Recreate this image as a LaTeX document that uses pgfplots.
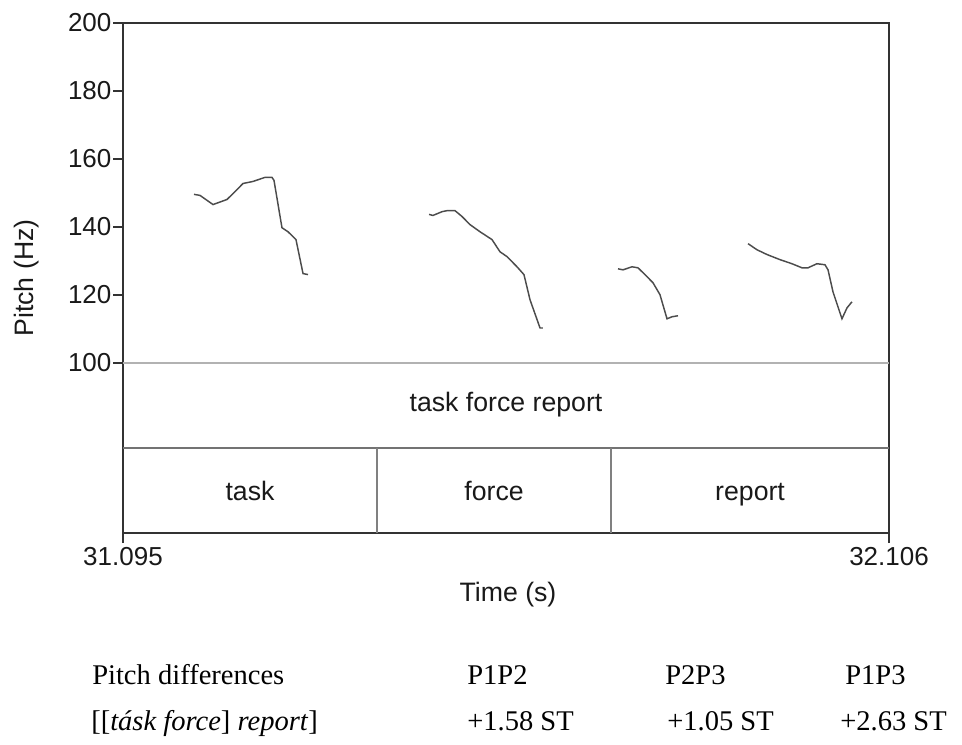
\documentclass[border=0pt]{standalone}
\usepackage{fontspec}
\setmainfont{Liberation Serif}
\setsansfont{Liberation Sans}
\usepackage{pgfplots}
\pgfplotsset{compat=1.18}
\tikzset{
  contour/.style={no markers, solid, line width=1.1pt, draw=black!70},
  tier/.style={font=\sffamily\fontsize{20}{23}\selectfont, text=black!90, anchor=base},
}
\begin{document}
\begin{tikzpicture}
\useasboundingbox (0pt,0pt) rectangle (721.5pt,558pt);
\begin{axis}[
  at={(92.25pt,158.25pt)}, anchor=south west,
  scale only axis, width=574.5pt, height=382.5pt,
  xmin=31.095, xmax=32.106, ymin=50, ymax=200,
  xtick={31.095,32.106}, xticklabels={31.095,32.106},
  ytick={100,120,140,160,180,200},
  tick align=outside, xtick pos=left, ytick pos=left,
  major tick length=7.5pt,
  axis line style={draw=black!80, line width=1.5pt},
  tick style={draw=black!80, line width=1.3pt},
  /pgf/number format/assume math mode=true,
  tick label style={font=\sffamily\fontsize{19.5}{22}\selectfont, text=black!90},
  yticklabel style={inner sep=1pt},
  xlabel={Time (s)}, ylabel={Pitch (Hz)},
  label style={font=\sffamily\fontsize{20}{23}\selectfont, text=black!90},
  xlabel style={at={(axis description cs:0.5026,-0.1215)}, anchor=center},
  ylabel style={at={(axis description cs:-0.1253,0.5)}, anchor=center},
]
% tier structure
\addplot[no markers, solid, draw=black!30, line width=0.8pt] coordinates {(31.095,100) (32.106,100)};
\addplot[no markers, solid, draw=black!55, line width=1.2pt] coordinates {(31.095,75) (32.106,75)};
\addplot[no markers, solid, draw=black!50, line width=0.8pt] coordinates {(31.4302,50) (31.4302,75)};
\addplot[no markers, solid, draw=black!50, line width=0.8pt] coordinates {(31.7391,50) (31.7391,75)};
% pitch contours
\addplot[contour] coordinates {
 (31.1887,149.6) (31.1966,149.3) (31.2138,146.6) (31.2323,148.1) (31.2428,150.4)
 (31.2534,152.8) (31.2666,153.4) (31.2824,154.6) (31.2916,154.6) (31.2943,153.7)
 (31.3048,139.8) (31.3128,138.6) (31.3233,136.3) (31.3326,126.3) (31.3392,126.0)};
\addplot[contour] coordinates {
 (31.4989,143.7) (31.5041,143.4) (31.5160,144.5) (31.5226,144.8) (31.5332,144.8)
 (31.5424,143.1) (31.5530,140.7) (31.5662,138.6) (31.5820,136.3) (31.5926,132.7)
 (31.6018,131.3) (31.6150,128.3) (31.6242,126.0) (31.6322,118.6) (31.6454,110.3)
 (31.6493,110.3)};
\addplot[contour] coordinates {
 (31.7483,127.7) (31.7549,127.4) (31.7668,128.3) (31.7747,128.0) (31.7839,126.0)
 (31.7945,123.6) (31.8037,120.1) (31.8130,113.0) (31.8196,113.6) (31.8275,113.9)};
\addplot[contour] coordinates {
 (31.9199,135.1) (31.9318,133.3) (31.9450,131.9) (31.9621,130.4) (31.9779,129.2)
 (31.9911,128.0) (31.9991,128.0) (32.0109,129.2) (32.0215,128.9) (32.0255,127.4)
 (32.0321,120.9) (32.0387,116.5) (32.0439,113.0) (32.0505,116.2) (32.0571,118.0)};
\node[tier] at (axis cs:31.6005,85.6) {task force report};
\node[tier] at (axis cs:31.2626,59.7) {task};
\node[tier] at (axis cs:31.5847,59.7) {force};
\node[tier] at (axis cs:31.9226,59.7) {report};
\end{axis}
\begin{scope}[every node/.style={anchor=base west, inner sep=0pt, font=\rmfamily\fontsize{21.4}{24}\selectfont}]
\node at (69pt,45pt) {Pitch differences};
\node at (350.25pt,45pt) {P1P2};
\node at (498.75pt,45pt) {P2P3};
\node at (633.75pt,45pt) {P1P3};
\node at (68.25pt,10.5pt) {[[\textit{tásk force}] \textit{report}]};
\node at (350.25pt,10.5pt) {+1.58 ST};
\node at (500.25pt,10.5pt) {+1.05 ST};
\node at (630pt,10.5pt) {+2.63 ST};
\end{scope}
\end{tikzpicture}
\end{document}
